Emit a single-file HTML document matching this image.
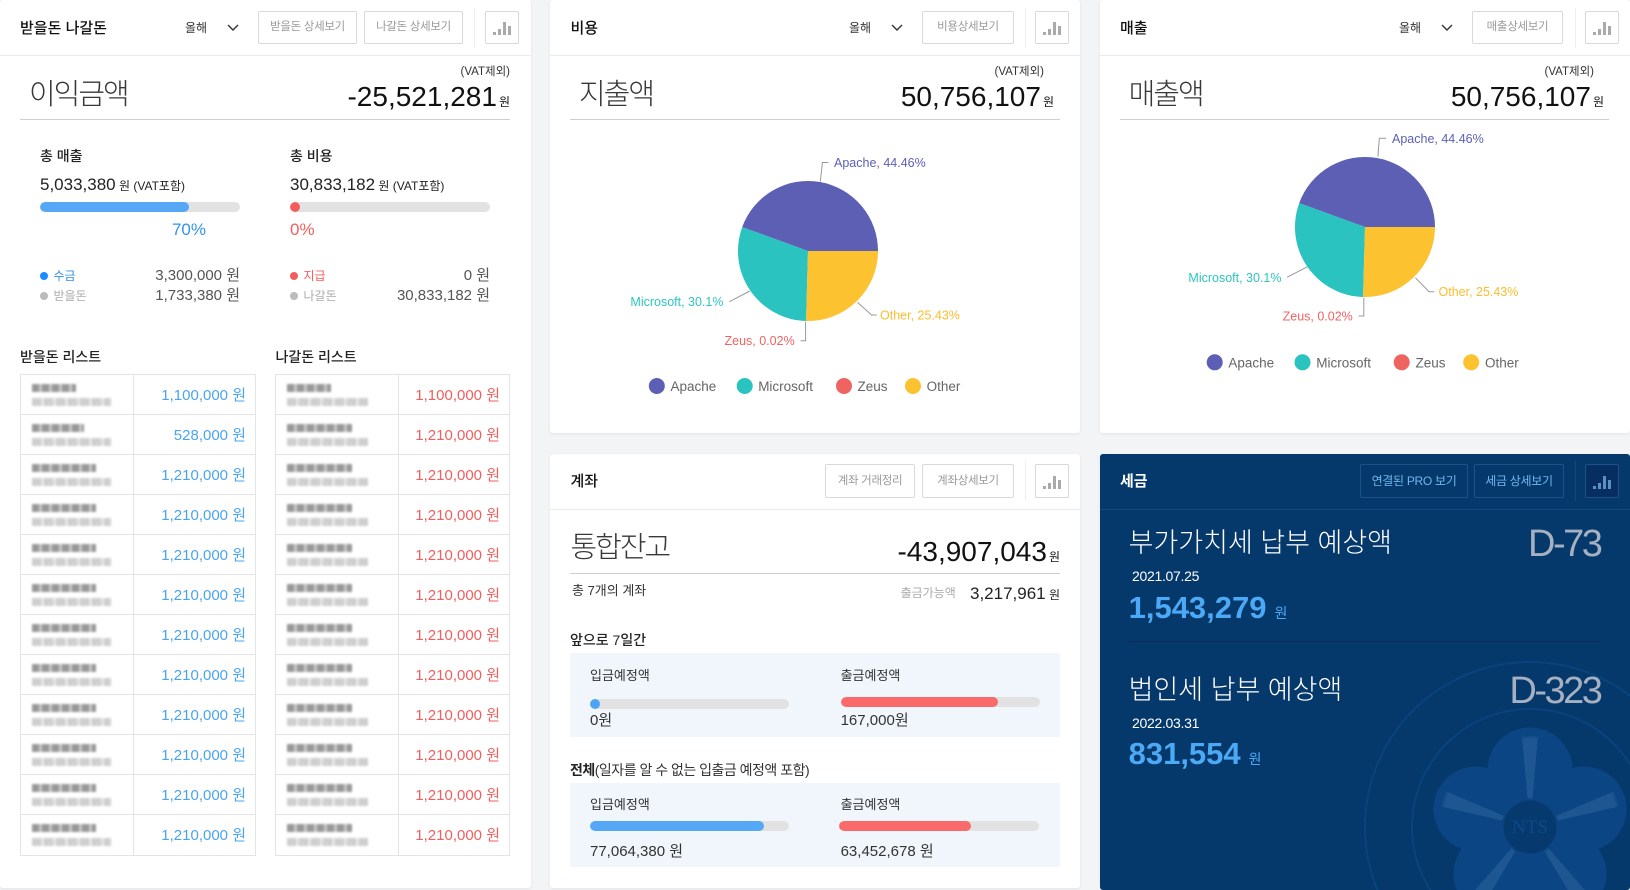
<!DOCTYPE html>
<html><head><meta charset="utf-8">
<style>
*{box-sizing:border-box}
html{overflow:hidden;width:1630px;height:890px}
body{margin:0;width:1630px;height:890px;position:relative;overflow:hidden;background:#f3f4f6;font-family:"Liberation Sans","Noto Sans CJK KR",sans-serif;color:#222}
.a{position:absolute;white-space:nowrap;line-height:1}
.p{position:absolute;background:#fff;border-radius:3px;box-shadow:0 1px 3px rgba(0,0,0,.07)}
.ln{position:absolute;height:1px}
.btn{position:absolute;height:33px;border:1px solid #d9d9d9;border-radius:2px;font-size:11.5px;color:#9a9a9a;text-align:center;line-height:31px;white-space:nowrap;letter-spacing:-0.3px}
.ico{position:absolute;width:34px;height:33px;border:1px solid #d9d9d9;border-radius:2px}
.ico i{position:absolute;bottom:8px;width:3px;background:#aaa}
.sep{position:absolute;width:1px;height:40px;background:#eee}
.big{font-size:29px;font-weight:300;letter-spacing:-2px;color:#383838}
.tbl{position:absolute;width:236px;height:482px;border:1px solid #e4e4e4}
.row{position:relative;height:40px;border-bottom:1px solid #e4e4e4}
.row:last-child{border-bottom:none}
.cd{position:absolute;top:0;width:1px;height:480px;background:#e4e4e4}
.b1{position:absolute;left:11px;top:9px;height:8px;background:repeating-linear-gradient(90deg,#7f7f7f 0 7px,#b9b9b9 7px 10px);filter:blur(1.1px);opacity:.8}
.b2{position:absolute;left:11px;top:23px;height:8px;background:repeating-linear-gradient(90deg,#cfcfcf 0 9px,#e6e6e6 9px 12px);filter:blur(1.1px)}
.am{position:absolute;right:9px;top:12.5px;font-size:15px;line-height:1;white-space:nowrap}
.bl{color:#4ba4f0}.rd{color:#f15e5e}
.bar{position:absolute;height:10px;border-radius:5px;background:#e2e2e2;overflow:hidden}
.bar b{position:absolute;left:0;top:0;height:10px;border-radius:5px}
.box{position:absolute;left:570px;width:490px;height:84px;background:#f0f6fb}
.em{position:absolute;left:0;top:0;width:530px;height:436px}
</style></head><body>

<!-- Panel 1 -->
<div class="p" style="left:0;top:0;width:531px;height:888px"></div>
<div class="a" style="left:20px;top:20.5px;font-size:15px;font-weight:500;color:#111">받을돈 나갈돈</div>
<div class="a" style="left:185px;top:22px;font-size:12px;color:#333">올해</div>
<svg class="a" style="left:227px;top:24px" width="12" height="8"><polyline points="1,1 6,6 11,1" fill="none" stroke="#333" stroke-width="1.4"/></svg>
<div class="btn" style="left:258px;top:11px;width:99px">받을돈 상세보기</div>
<div class="btn" style="left:364px;top:11px;width:99px">나갈돈 상세보기</div>
<div class="sep" style="left:474px;top:8px"></div>
<div class="ico" style="left:485px;top:11px"><i style="left:7px;height:3px"></i><i style="left:12px;height:6px"></i><i style="left:17px;height:13px"></i><i style="left:22px;height:9px"></i></div>
<div class="ln" style="left:0;top:55px;width:531px;background:#ebebeb"></div>

<div class="a" style="right:1120px;top:67px;font-size:11.5px;color:#333">(VAT제외)</div>
<div class="a big" style="left:29px;top:80.5px">이익금액</div>
<div class="a" style="right:1120px;top:83px;font-size:28px;color:#111">-25,521,281<span style="font-size:12px;margin-left:2px">원</span></div>
<div class="ln" style="left:20px;top:119px;width:490px;background:#cfcfcf"></div>

<div class="a" style="left:40px;top:149px;font-size:14px;font-weight:500">총 매출</div>
<div class="a" style="left:40px;top:176px;font-size:17px;color:#222">5,033,380<span style="font-size:12px"> 원 (VAT포함)</span></div>
<div class="bar" style="left:40px;top:202px;width:200px"><b style="width:149px;background:#56a7f5"></b></div>
<div class="a" style="right:1424px;top:220.5px;font-size:17px;color:#2e94f0">70%</div>

<div class="a" style="left:290px;top:149px;font-size:14px;font-weight:500">총 비용</div>
<div class="a" style="left:290px;top:176px;font-size:17px;color:#222">30,833,182<span style="font-size:12px"> 원 (VAT포함)</span></div>
<div class="bar" style="left:290px;top:202px;width:200px"><b style="width:10px;background:#f55d5d"></b></div>
<div class="a" style="left:290px;top:220.5px;font-size:17px;color:#f55d5d">0%</div>

<div class="a" style="left:40px;top:271.7px;width:8px;height:8px;border-radius:4px;background:#1a8cff"></div>
<div class="a" style="left:53.5px;top:269.5px;font-size:12px;color:#2f8fef">수금</div>
<div class="a" style="right:1390px;top:268.3px;font-size:15px;color:#555">3,300,000 원</div>
<div class="a" style="left:40px;top:291.5px;width:8px;height:8px;border-radius:4px;background:#bbb"></div>
<div class="a" style="left:53.5px;top:289.5px;font-size:12px;color:#aaa">받을돈</div>
<div class="a" style="right:1390px;top:288px;font-size:15px;color:#555">1,733,380 원</div>

<div class="a" style="left:290px;top:271.7px;width:8px;height:8px;border-radius:4px;background:#f55d5d"></div>
<div class="a" style="left:303.5px;top:269.5px;font-size:12px;color:#f55d5d">지급</div>
<div class="a" style="right:1140px;top:268.3px;font-size:15px;color:#555">0 원</div>
<div class="a" style="left:290px;top:291.5px;width:8px;height:8px;border-radius:4px;background:#bbb"></div>
<div class="a" style="left:303.5px;top:289.5px;font-size:12px;color:#aaa">나갈돈</div>
<div class="a" style="right:1140px;top:288px;font-size:15px;color:#555">30,833,182 원</div>

<div class="a" style="left:20px;top:349.7px;font-size:14px;font-weight:500">받을돈 리스트</div>
<div class="a" style="left:275.5px;top:349.7px;font-size:14px;font-weight:500">나갈돈 리스트</div>

<div class="tbl" style="left:20px;top:374px">
<div class="cd" style="left:112px"></div>
<div class="row"><div class="b1" style="width:44px"></div><div class="b2" style="width:79px"></div><div class="am bl">1,100,000 원</div></div>
<div class="row"><div class="b1" style="width:52px"></div><div class="b2" style="width:79px"></div><div class="am bl">528,000 원</div></div>
<div class="row"><div class="b1" style="width:64px"></div><div class="b2" style="width:79px"></div><div class="am bl">1,210,000 원</div></div>
<div class="row"><div class="b1" style="width:64px"></div><div class="b2" style="width:79px"></div><div class="am bl">1,210,000 원</div></div>
<div class="row"><div class="b1" style="width:64px"></div><div class="b2" style="width:79px"></div><div class="am bl">1,210,000 원</div></div>
<div class="row"><div class="b1" style="width:64px"></div><div class="b2" style="width:79px"></div><div class="am bl">1,210,000 원</div></div>
<div class="row"><div class="b1" style="width:64px"></div><div class="b2" style="width:79px"></div><div class="am bl">1,210,000 원</div></div>
<div class="row"><div class="b1" style="width:64px"></div><div class="b2" style="width:79px"></div><div class="am bl">1,210,000 원</div></div>
<div class="row"><div class="b1" style="width:64px"></div><div class="b2" style="width:79px"></div><div class="am bl">1,210,000 원</div></div>
<div class="row"><div class="b1" style="width:64px"></div><div class="b2" style="width:79px"></div><div class="am bl">1,210,000 원</div></div>
<div class="row"><div class="b1" style="width:64px"></div><div class="b2" style="width:79px"></div><div class="am bl">1,210,000 원</div></div>
<div class="row"><div class="b1" style="width:64px"></div><div class="b2" style="width:79px"></div><div class="am bl">1,210,000 원</div></div>
</div>

<div class="tbl" style="left:275px;top:374px;width:235px">
<div class="cd" style="left:122px"></div>
<div class="row"><div class="b1" style="width:44px"></div><div class="b2" style="width:81px"></div><div class="am rd">1,100,000 원</div></div>
<div class="row"><div class="b1" style="width:65px"></div><div class="b2" style="width:81px"></div><div class="am rd">1,210,000 원</div></div>
<div class="row"><div class="b1" style="width:65px"></div><div class="b2" style="width:81px"></div><div class="am rd">1,210,000 원</div></div>
<div class="row"><div class="b1" style="width:65px"></div><div class="b2" style="width:81px"></div><div class="am rd">1,210,000 원</div></div>
<div class="row"><div class="b1" style="width:65px"></div><div class="b2" style="width:81px"></div><div class="am rd">1,210,000 원</div></div>
<div class="row"><div class="b1" style="width:65px"></div><div class="b2" style="width:81px"></div><div class="am rd">1,210,000 원</div></div>
<div class="row"><div class="b1" style="width:65px"></div><div class="b2" style="width:81px"></div><div class="am rd">1,210,000 원</div></div>
<div class="row"><div class="b1" style="width:65px"></div><div class="b2" style="width:81px"></div><div class="am rd">1,210,000 원</div></div>
<div class="row"><div class="b1" style="width:65px"></div><div class="b2" style="width:81px"></div><div class="am rd">1,210,000 원</div></div>
<div class="row"><div class="b1" style="width:65px"></div><div class="b2" style="width:81px"></div><div class="am rd">1,210,000 원</div></div>
<div class="row"><div class="b1" style="width:65px"></div><div class="b2" style="width:81px"></div><div class="am rd">1,210,000 원</div></div>
<div class="row"><div class="b1" style="width:65px"></div><div class="b2" style="width:81px"></div><div class="am rd">1,210,000 원</div></div>
</div>

<!-- Panel 2 -->
<div class="p" style="left:550px;top:0;width:530px;height:433px"></div>
<div class="a" style="left:570.5px;top:20.5px;font-size:15px;font-weight:500;color:#111">비용</div>
<div class="a" style="left:849px;top:22px;font-size:12px;color:#333">올해</div>
<svg class="a" style="left:891px;top:24px" width="12" height="8"><polyline points="1,1 6,6 11,1" fill="none" stroke="#333" stroke-width="1.4"/></svg>
<div class="btn" style="left:922px;top:11px;width:92px">비용상세보기</div>
<div class="sep" style="left:1025px;top:8px"></div>
<div class="ico" style="left:1035px;top:11px"><i style="left:7px;height:3px"></i><i style="left:12px;height:6px"></i><i style="left:17px;height:13px"></i><i style="left:22px;height:9px"></i></div>
<div class="ln" style="left:550px;top:55px;width:530px;background:#ebebeb"></div>
<div class="a" style="right:586px;top:67px;font-size:11.5px;color:#333">(VAT제외)</div>
<div class="a big" style="left:579px;top:80.5px">지출액</div>
<div class="a" style="right:576px;top:83px;font-size:28px;color:#111">50,756,107<span style="font-size:12px;margin-left:2px">원</span></div>
<div class="ln" style="left:570px;top:119px;width:490px;background:#cfcfcf"></div>

<!-- Panel 3 -->
<div class="p" style="left:1100px;top:0;width:530px;height:433px"></div>
<div class="a" style="left:1120px;top:20.5px;font-size:15px;font-weight:500;color:#111">매출</div>
<div class="a" style="left:1399px;top:22px;font-size:12px;color:#333">올해</div>
<svg class="a" style="left:1441px;top:24px" width="12" height="8"><polyline points="1,1 6,6 11,1" fill="none" stroke="#333" stroke-width="1.4"/></svg>
<div class="btn" style="left:1472px;top:11px;width:91px">매출상세보기</div>
<div class="sep" style="left:1575px;top:8px"></div>
<div class="ico" style="left:1585px;top:11px"><i style="left:7px;height:3px"></i><i style="left:12px;height:6px"></i><i style="left:17px;height:13px"></i><i style="left:22px;height:9px"></i></div>
<div class="ln" style="left:1100px;top:55px;width:530px;background:#ebebeb"></div>
<div class="a" style="right:36px;top:67px;font-size:11.5px;color:#333">(VAT제외)</div>
<div class="a big" style="left:1128.6px;top:80.5px">매출액</div>
<div class="a" style="right:26px;top:83px;font-size:28px;color:#111">50,756,107<span style="font-size:12px;margin-left:2px">원</span></div>
<div class="ln" style="left:1120px;top:119px;width:489px;background:#cfcfcf"></div>

<!-- Panel 4 -->
<div class="p" style="left:550px;top:454px;width:530px;height:434px"></div>
<div class="a" style="left:570.5px;top:473.5px;font-size:15px;font-weight:500;color:#111">계좌</div>
<div class="btn" style="left:825px;top:464px;width:90px;height:34px;line-height:32px">계좌 거래정리</div>
<div class="btn" style="left:922px;top:464px;width:92px;height:34px;line-height:32px">계좌상세보기</div>
<div class="sep" style="left:1025px;top:461px"></div>
<div class="ico" style="left:1035px;top:464px;height:34px"><i style="left:7px;height:3px"></i><i style="left:12px;height:6px"></i><i style="left:17px;height:13px"></i><i style="left:22px;height:9px"></i></div>
<div class="ln" style="left:550px;top:509px;width:530px;background:#ebebeb"></div>
<div class="a big" style="left:570.5px;top:533.5px">통합잔고</div>
<div class="a" style="right:570px;top:537.5px;font-size:28px;color:#111">-43,907,043<span style="font-size:12px;margin-left:2px">원</span></div>
<div class="ln" style="left:570px;top:573px;width:490px;background:#cfcfcf"></div>
<div class="a" style="left:572px;top:583.5px;font-size:13px;color:#333">총 7개의 계좌</div>
<div class="a" style="left:900.6px;top:587px;font-size:12px;color:#aaa">출금가능액</div>
<div class="a" style="right:570px;top:584.7px;font-size:17px;color:#222">3,217,961<span style="font-size:12px"> 원</span></div>
<div class="a" style="left:570px;top:633px;font-size:14px;font-weight:500;color:#222">앞으로 7일간</div>
<div class="box" style="top:653px"></div>
<div class="a" style="left:590px;top:668.5px;font-size:13px;color:#333">입금예정액</div>
<div class="bar" style="left:590px;top:699px;width:199px"><b style="width:10px;background:#4da3f5"></b></div>
<div class="a" style="left:590px;top:712.5px;font-size:15px;color:#333">0원</div>
<div class="a" style="left:840.6px;top:668.5px;font-size:13px;color:#333">출금예정액</div>
<div class="bar" style="left:840.6px;top:697px;width:199px"><b style="width:157px;background:#f96a6a"></b></div>
<div class="a" style="left:840.6px;top:712.5px;font-size:15px;color:#333">167,000원</div>
<div class="a" style="left:570px;top:763px;font-size:14px;color:#333;letter-spacing:-0.5px"><b style="color:#222">전체</b>(일자를 알 수 없는 입출금 예정액 포함)</div>
<div class="box" style="top:783px"></div>
<div class="a" style="left:590px;top:797.5px;font-size:13px;color:#333">입금예정액</div>
<div class="bar" style="left:590px;top:821px;width:199px"><b style="width:174px;background:#55a8f6"></b></div>
<div class="a" style="left:590px;top:843.5px;font-size:15px;color:#333">77,064,380 원</div>
<div class="a" style="left:840.6px;top:797.5px;font-size:13px;color:#333">출금예정액</div>
<div class="bar" style="left:839px;top:821px;width:200px"><b style="width:132px;background:#f96a6a"></b></div>
<div class="a" style="left:840.6px;top:843.5px;font-size:15px;color:#333">63,452,678 원</div>

<!-- Panel 5 -->
<div class="p" style="left:1100px;top:454px;width:530px;height:436px;background:#05386b;overflow:hidden">
<div class="em" style="background:
radial-gradient(circle at 430px 373px,#06396d 0 26px,transparent 27px),
radial-gradient(circle at 430px 316px,#0b4583 0 42px,transparent 43px),
radial-gradient(circle at 484px 355px,#0b4583 0 42px,transparent 43px),
radial-gradient(circle at 464px 420px,#0b4583 0 42px,transparent 43px),
radial-gradient(circle at 396px 420px,#0b4583 0 42px,transparent 43px),
radial-gradient(circle at 376px 355px,#0b4583 0 42px,transparent 43px),
radial-gradient(circle at 430px 373px,transparent 0 117px,#09427c 117px 119px,transparent 119px 164px,#09427c 164px 166px,rgba(255,255,255,0) 166px)"></div>
<div class="em" style="background:repeating-conic-gradient(from -5deg at 430px 373px,rgba(140,185,230,.15) 0deg 10deg,transparent 10deg 72deg);-webkit-mask-image:radial-gradient(circle at 430px 373px,transparent 0 28px,#000 29px 88px,transparent 92px);mask-image:radial-gradient(circle at 430px 373px,transparent 0 28px,#000 29px 88px,transparent 92px)"></div>
<div class="a" style="left:410px;top:364px;width:40px;text-align:center;font-family:'Liberation Serif',serif;font-size:19px;color:#0f4a84">NTS</div>
</div>
<div class="a" style="left:1120px;top:473.5px;font-size:15px;font-weight:bold;color:#fff">세금</div>
<div class="btn" style="left:1360px;top:464px;width:108px;height:34px;line-height:32px;border-color:#1c5189;color:#72b6f0;font-size:12px">연결된 PRO 보기</div>
<div class="btn" style="left:1474px;top:464px;width:90px;height:34px;line-height:32px;border-color:#1c5189;color:#72b6f0;font-size:12px">세금 상세보기</div>
<div class="sep" style="left:1575px;top:461px;background:#164777"></div>
<div class="ico" style="left:1585px;top:464px;height:34px;border-color:#1c5189;background:#072e60"><i style="left:7px;height:3px;background:#5d8fc0"></i><i style="left:12px;height:6px;background:#5d8fc0"></i><i style="left:17px;height:13px;background:#5d8fc0"></i><i style="left:22px;height:9px;background:#5d8fc0"></i></div>
<div class="ln" style="left:1100px;top:509px;width:530px;background:#154a80"></div>
<div class="a" style="left:1128.6px;top:529.5px;font-size:27px;font-weight:300;letter-spacing:0px;color:#fff">부가가치세 납부 예상액</div>
<div class="a" style="right:29.6px;top:524.5px;font-size:38px;letter-spacing:-2.5px;color:#a5b1c0">D-73</div>
<div class="a" style="left:1132px;top:569px;font-size:14px;letter-spacing:-0.3px;color:#fff">2021.07.25</div>
<div class="a" style="left:1128.6px;top:591.6px;font-size:31px;font-weight:bold;color:#4ca9f5">1,543,279<span style="font-size:14px;font-weight:normal;margin-left:8px">원</span></div>
<div class="ln" style="left:1128.6px;top:641px;width:472px;background:#0b2c55"></div>
<div class="a" style="left:1128.6px;top:676.5px;font-size:27px;font-weight:300;letter-spacing:0px;color:#fff">법인세 납부 예상액</div>
<div class="a" style="right:29.6px;top:671.5px;font-size:38px;letter-spacing:-2.5px;color:#a5b1c0">D-323</div>
<div class="a" style="left:1132px;top:716.3px;font-size:14px;letter-spacing:-0.3px;color:#fff">2022.03.31</div>
<div class="a" style="left:1128.6px;top:738px;font-size:31px;font-weight:bold;color:#4ca9f5">831,554<span style="font-size:14px;font-weight:normal;margin-left:8px">원</span></div>

<!-- Pies overlay -->
<svg class="a" style="left:0;top:0" width="1630" height="450" font-family="Liberation Sans, sans-serif">
<g>
<path d="M808,251 L878,251 A70,70 0 0 0 742.2,227.1 Z" fill="#5c5fb4"/>
<path d="M808,251 L742.2,227.1 A70,70 0 0 0 806.07,320.97 Z" fill="#2ac3bf"/>
<path d="M808,251 L806.07,320.97 A70,70 0 0 0 878,251 Z" fill="#fdc22f"/>
<g fill="none" stroke="#999" stroke-width="1">
<polyline points="820.3,181.7 822.4,162.5 828.4,162.5"/>
<polyline points="729.4,301.7 749.8,291"/>
<polyline points="857.5,302.3 871.5,315 876.8,315"/>
<polyline points="805.6,321.7 805.6,340.7 800.6,340.7"/>
</g>
<g font-size="12.5">
<text x="834" y="167" fill="#5c5fb8">Apache, 44.46%</text>
<text x="723.5" y="306" fill="#2dc5c1" text-anchor="end">Microsoft, 30.1%</text>
<text x="880" y="319.5" fill="#fbbd2b">Other, 25.43%</text>
<text x="794.7" y="345.2" fill="#f06363" text-anchor="end">Zeus, 0.02%</text>
</g>
<g font-size="13.5" fill="#666">
<circle cx="656.8" cy="386" r="8" fill="#5c5fb4"/><text x="670.5" y="391">Apache</text>
<circle cx="744.7" cy="386" r="8" fill="#2ac3bf"/><text x="758.2" y="391">Microsoft</text>
<circle cx="844" cy="386" r="8" fill="#ef6461"/><text x="857.5" y="391">Zeus</text>
<circle cx="913" cy="386" r="8" fill="#fdc22f"/><text x="926.6" y="391">Other</text>
</g>
</g>
<g>
<path d="M1365,227 L1435,227 A70,70 0 0 0 1299.2,203.1 Z" fill="#5c5fb4"/>
<path d="M1365,227 L1299.2,203.1 A70,70 0 0 0 1363.07,296.97 Z" fill="#2ac3bf"/>
<path d="M1365,227 L1363.07,296.97 A70,70 0 0 0 1435,227 Z" fill="#fdc22f"/>
<g fill="none" stroke="#999" stroke-width="1">
<polyline points="1377.9,156.7 1379.3,138.3 1386,138.3"/>
<polyline points="1287,277.3 1307.6,266.7"/>
<polyline points="1415.4,277.7 1429,291.7 1434.4,291.7"/>
<polyline points="1363.8,297.7 1363.8,316 1358.6,316"/>
</g>
<g font-size="12.5">
<text x="1392" y="142.8" fill="#5c5fb8">Apache, 44.46%</text>
<text x="1281.5" y="281.8" fill="#2dc5c1" text-anchor="end">Microsoft, 30.1%</text>
<text x="1438.5" y="296.2" fill="#fbbd2b">Other, 25.43%</text>
<text x="1352.8" y="320.5" fill="#f06363" text-anchor="end">Zeus, 0.02%</text>
</g>
<g font-size="13.5" fill="#666">
<circle cx="1214.7" cy="362.3" r="8" fill="#5c5fb4"/><text x="1228.4" y="367.3">Apache</text>
<circle cx="1302.5" cy="362.3" r="8" fill="#2ac3bf"/><text x="1316.3" y="367.3">Microsoft</text>
<circle cx="1401.7" cy="362.3" r="8" fill="#ef6461"/><text x="1415.5" y="367.3">Zeus</text>
<circle cx="1471.2" cy="362.3" r="8" fill="#fdc22f"/><text x="1485" y="367.3">Other</text>
</g>
</g>
</svg>
</body></html>
